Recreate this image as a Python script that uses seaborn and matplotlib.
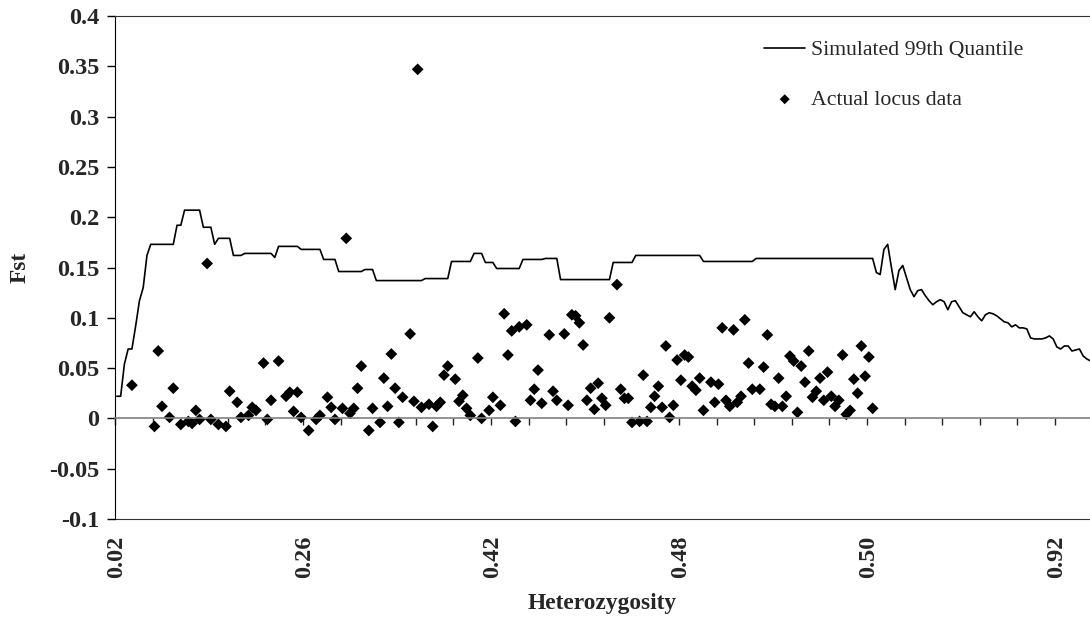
import numpy as np
import pandas as pd
import matplotlib
matplotlib.use("Agg")
import matplotlib.pyplot as plt
import seaborn as sns

# === Simulated 99th quantile of Fst, one value per heterozygosity class ===
quantile_fst = [
    0.022, 0.022, 0.054, 0.069, 0.069, 0.092, 0.117, 0.130, 0.162, 0.173,
    0.173, 0.173, 0.173, 0.173, 0.173, 0.173, 0.192, 0.192, 0.207, 0.207,
    0.207, 0.207, 0.207, 0.190, 0.190, 0.190, 0.173, 0.179, 0.179, 0.179,
    0.179, 0.162, 0.162, 0.162, 0.164, 0.164, 0.164, 0.164, 0.164, 0.164,
    0.164, 0.164, 0.160, 0.171, 0.171, 0.171, 0.171, 0.171, 0.171, 0.168,
    0.168, 0.168, 0.168, 0.168, 0.168, 0.158, 0.158, 0.158, 0.158, 0.146,
    0.146, 0.146, 0.146, 0.146, 0.146, 0.146, 0.148, 0.148, 0.148, 0.137,
    0.137, 0.137, 0.137, 0.137, 0.137, 0.137, 0.137, 0.137, 0.137, 0.137,
    0.137, 0.137, 0.139, 0.139, 0.139, 0.139, 0.139, 0.139, 0.139, 0.156,
    0.156, 0.156, 0.156, 0.156, 0.156, 0.164, 0.164, 0.164, 0.155, 0.155,
    0.155, 0.149, 0.149, 0.149, 0.149, 0.149, 0.149, 0.149, 0.158, 0.158,
    0.158, 0.158, 0.158, 0.158, 0.159, 0.159, 0.159, 0.159, 0.138, 0.138,
    0.138, 0.138, 0.138, 0.138, 0.138, 0.138, 0.138, 0.138, 0.138, 0.138,
    0.138, 0.138, 0.155, 0.155, 0.155, 0.155, 0.155, 0.155, 0.162, 0.162,
    0.162, 0.162, 0.162, 0.162, 0.162, 0.162, 0.162, 0.162, 0.162, 0.162,
    0.162, 0.162, 0.162, 0.162, 0.162, 0.162, 0.156, 0.156, 0.156, 0.156,
    0.156, 0.156, 0.156, 0.156, 0.156, 0.156, 0.156, 0.156, 0.156, 0.156,
    0.159, 0.159, 0.159, 0.159, 0.159, 0.159, 0.159, 0.159, 0.159, 0.159,
    0.159, 0.159, 0.159, 0.159, 0.159, 0.159, 0.159, 0.159, 0.159, 0.159,
    0.159, 0.159, 0.159, 0.159, 0.159, 0.159, 0.159, 0.159, 0.159, 0.159,
    0.159, 0.159, 0.145, 0.143, 0.168, 0.173, 0.150, 0.128, 0.147, 0.152,
    0.140, 0.128, 0.121, 0.127, 0.128, 0.122, 0.117, 0.113, 0.116, 0.118,
    0.116, 0.108, 0.116, 0.117, 0.111, 0.105, 0.103, 0.101, 0.106, 0.101,
    0.097, 0.103, 0.105, 0.104, 0.102, 0.099, 0.096, 0.095, 0.091, 0.093,
    0.090, 0.090, 0.089, 0.080, 0.079, 0.079, 0.079, 0.080, 0.082, 0.079,
    0.071, 0.069, 0.072, 0.072, 0.067, 0.068, 0.069, 0.062, 0.059, 0.057,
]

# === Actual loci: heterozygosity class index and observed Fst ===
locus_class = [
    4, 10, 11, 12, 14, 15, 17, 19, 20, 21, 22, 24, 25, 27, 29, 30, 32, 33, 35, 36,
    37, 39, 40, 41, 43, 45, 46, 47, 48, 49, 51, 53, 54, 56, 57, 58, 60, 61, 62, 63,
    64, 65, 67, 68, 70, 71, 72, 73, 74, 75, 76, 78, 79, 80, 81, 83, 84, 85, 86, 87,
    88, 90, 91, 92, 93, 94, 96, 97, 99, 100, 102, 103, 104, 105, 106, 107, 109, 110, 111, 112,
    113, 115, 116, 117, 119, 120, 121, 122, 123, 124, 125, 126, 127, 128, 129, 130, 131, 133, 134, 135,
    136, 137, 139, 140, 141, 142, 143, 144, 145, 146, 147, 148, 149, 150, 151, 152, 153, 154, 155, 156,
    158, 159, 160, 161, 162, 163, 164, 165, 166, 167, 168, 169, 171, 172, 173, 174, 175, 176, 177, 178,
    179, 180, 181, 182, 183, 184, 185, 186, 187, 188, 189, 190, 191, 192, 193, 194, 195, 196, 197, 198,
    199, 200, 201,
]
locus_fst = [
    0.033, -0.008, 0.067, 0.012, 0.001, 0.030, -0.006, -0.003, -0.005, 0.008,
    -0.001, 0.154, -0.001, -0.006, -0.008, 0.027, 0.016, 0.001, 0.003, 0.011,
    0.008, 0.055, -0.001, 0.018, 0.057, 0.022, 0.026, 0.007, 0.026, 0.001,
    -0.012, -0.001, 0.003, 0.021, 0.011, -0.001, 0.010, 0.179, 0.005, 0.010,
    0.030, 0.052, -0.012, 0.010, -0.004, 0.040, 0.012, 0.064, 0.030, -0.004,
    0.021, 0.084, 0.017, 0.347, 0.011, 0.014, -0.008, 0.012, 0.016, 0.043,
    0.052, 0.039, 0.017, 0.023, 0.010, 0.003, 0.060, 0.000, 0.008, 0.021,
    0.013, 0.104, 0.063, 0.087, -0.003, 0.091, 0.093, 0.018, 0.029, 0.048,
    0.015, 0.083, 0.027, 0.018, 0.084, 0.013, 0.103, 0.102, 0.095, 0.073,
    0.018, 0.030, 0.009, 0.035, 0.020, 0.013, 0.100, 0.133, 0.029, 0.020,
    0.020, -0.004, -0.003, 0.043, -0.003, 0.011, 0.022, 0.032, 0.011, 0.072,
    0.001, 0.013, 0.058, 0.038, 0.063, 0.061, 0.032, 0.028, 0.040, 0.008,
    0.036, 0.016, 0.034, 0.090, 0.018, 0.012, 0.088, 0.016, 0.022, 0.098,
    0.055, 0.029, 0.029, 0.051, 0.083, 0.014, 0.012, 0.040, 0.012, 0.022,
    0.062, 0.057, 0.006, 0.052, 0.036, 0.067, 0.021, 0.027, 0.040, 0.018,
    0.046, 0.022, 0.012, 0.018, 0.063, 0.004, 0.008, 0.039, 0.025, 0.072,
    0.042, 0.061, 0.010,
]

# === Axis labels ===
label_classes = [0, 50, 100, 150, 200, 250]
label_text = ["0.02", "0.26", "0.42", "0.48", "0.50", "0.92"]
y_ticks = [-0.1, -0.05, 0, 0.05, 0.1, 0.15, 0.2, 0.25, 0.3, 0.35, 0.4]
y_text = ["-0.1", "-0.05", "0", "0.05", "0.1", "0.15", "0.2", "0.25", "0.3", "0.35", "0.4"]

sns.set_style("white")
plt.rcParams["font.family"] = ["Liberation Serif", "DejaVu Serif"]

line_df = pd.DataFrame({"cls": np.arange(len(quantile_fst)) + 0.5, "fst": quantile_fst})
loci_df = pd.DataFrame({"cls": np.array(locus_class) + 0.5, "fst": locus_fst})

fig = plt.figure(figsize=(10.9, 6.2), dpi=100)
ax = fig.add_axes([115 / 1090, 101 / 620, 975 / 1090, 503 / 620])

sns.lineplot(data=line_df, x="cls", y="fst", color="black", lw=1.2, ax=ax,
             label="Simulated 99th Quantile")
sns.scatterplot(data=loci_df, x="cls", y="fst", marker="D", s=36, color="black",
                edgecolor="none", ax=ax, label="Actual locus data")

ax.set_xlim(0, 975 / 3.76)
ax.set_ylim(-0.1, 0.4)

# category axis crosses at zero, with tick marks every 10 classes
ax.spines["bottom"].set_position(("data", 0))
ax.spines["bottom"].set_color("#808080")
ax.spines["bottom"].set_linewidth(1.2)
ax.spines["right"].set_visible(False)
ax.spines["top"].set_color("#333333")
ax.spines["left"].set_color("black")
ax.set_xticks(np.arange(0, 260, 10))
ax.tick_params(axis="x", bottom=True, direction="out", length=5, width=1,
               color="#222222", labelbottom=False)

ax.set_yticks(y_ticks, labels=y_text)
ax.tick_params(axis="y", left=True, direction="out", length=5.5, width=1,
               color="black", pad=6, labelsize=17.5)
for t in ax.get_yticklabels():
    t.set_fontweight("bold")

# category labels sit at the bottom border
sec = ax.secondary_xaxis(0)
sec.set_xticks([k + 0.5 for k in label_classes], labels=label_text)
sec.tick_params(length=0, pad=12, labelrotation=90, labelsize=17.5)
sec.spines["bottom"].set_color("#333333")
for t in sec.get_xticklabels():
    t.set_fontweight("bold")

ax.set_xlabel("Heterozygosity", fontsize=16.8, fontweight="bold")
ax.xaxis.set_label_coords(0.5, -0.147)
ax.set_ylabel("Fst", fontsize=16.8, fontweight="bold")
ax.yaxis.set_label_coords(-0.087, 0.5)

ax.legend(loc="upper left", bbox_to_anchor=(764 / 1090, 1 - 40 / 620),
          bbox_transform=fig.transFigure, frameon=False, fontsize=15.7,
          borderpad=0, borderaxespad=0, handlelength=1.9, handletextpad=0.25,
          labelspacing=1.35, markerscale=0.85)

fig.savefig("out.png", dpi=100)
